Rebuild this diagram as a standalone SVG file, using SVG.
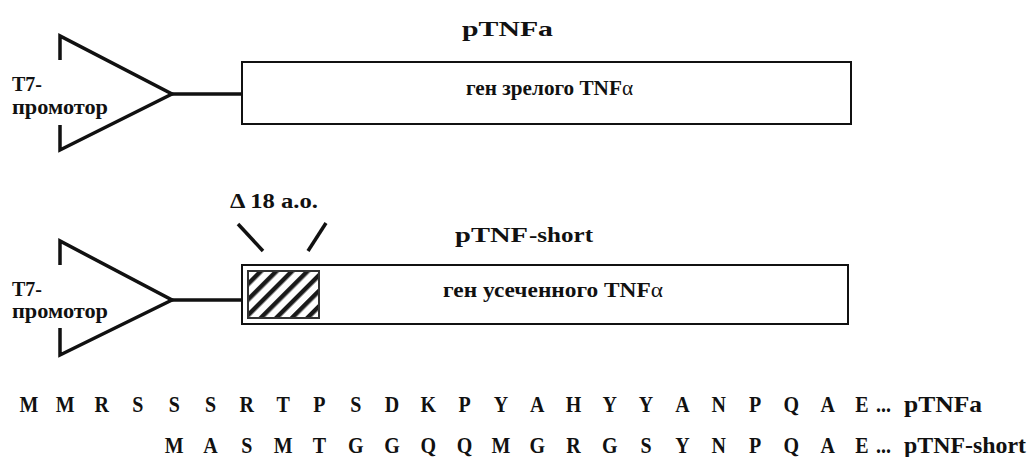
<svg xmlns="http://www.w3.org/2000/svg" width="1030" height="457" viewBox="0 0 1030 457">
<style>
.t{font-family:"Liberation Serif","Times New Roman",serif;font-weight:bold;fill:#111;}
.sq{font-size:20px;text-anchor:middle;}
.a{font-weight:normal;}
.ln{fill:none;stroke:#111;stroke-width:3.5;stroke-linejoin:miter;}
.box{fill:#fff;stroke:#111;stroke-width:2;}
</style>
<defs>
<pattern id="hatch" width="11" height="11" patternUnits="userSpaceOnUse" patternTransform="rotate(45)">
<rect width="11" height="11" fill="#fff"/>
<rect width="4.5" height="11" fill="#1a1a1a"/>
</pattern>
</defs>
<rect width="1030" height="457" fill="#fff"/>

<g id="connectors">
<line class="ln" x1="172" y1="94" x2="243" y2="94"/>
<line class="ln" x1="172" y1="300" x2="243" y2="300"/>
<line class="ln" x1="238" y1="224" x2="263" y2="251"/>
<line class="ln" x1="326" y1="223" x2="308" y2="251"/>
</g>

<g id="title-pTNFa">
<text class="t" x="462" y="36" font-size="22" textLength="91" lengthAdjust="spacingAndGlyphs">pTNFa</text>
</g>

<g id="promoter1">
<polyline class="ln" points="60,60 60,36 172,94 60,150 60,125"/>
<text class="t" transform="translate(12,91) scale(1,1.2)" font-size="18" textLength="30" lengthAdjust="spacingAndGlyphs">T7-</text>
<text class="t" transform="translate(12,114) scale(1,1.2)" font-size="18" textLength="96" lengthAdjust="spacingAndGlyphs">промотор</text>
</g>

<g id="gene1">
<rect class="box" x="242" y="62" width="609" height="62"/>
<text class="t" transform="translate(466,95) scale(1,1.2)" font-size="17" textLength="167" lengthAdjust="spacingAndGlyphs">ген зрелого  TNF<tspan class="a">α</tspan></text>
</g>

<g id="deletion-label">
<text class="t" transform="translate(230,208) scale(1,1.2)" font-size="18" textLength="88" lengthAdjust="spacingAndGlyphs">Δ 18 а.о.</text>
</g>

<g id="title-pTNF-short">
<text class="t" x="455" y="242" font-size="22" textLength="73" lengthAdjust="spacingAndGlyphs">pTNF</text>
<text class="t" transform="translate(529,242) scale(1,1.2)" font-size="17" textLength="64" lengthAdjust="spacingAndGlyphs">-short</text>
</g>

<g id="promoter2">
<polyline class="ln" points="60,265 60,241 172,300 60,355 60,328"/>
<text class="t" transform="translate(12,296) scale(1,1.2)" font-size="18" textLength="30" lengthAdjust="spacingAndGlyphs">T7-</text>
<text class="t" transform="translate(12,318) scale(1,1.2)" font-size="18" textLength="96" lengthAdjust="spacingAndGlyphs">промотор</text>
</g>

<g id="gene2">
<rect class="box" x="242" y="265" width="606" height="59"/>
<rect id="deleted-region" x="248" y="271" width="71" height="47" fill="url(#hatch)" stroke="#333" stroke-width="2"/>
<text class="t" transform="translate(443,297) scale(1,1.2)" font-size="17" textLength="220" lengthAdjust="spacingAndGlyphs">ген усеченного TNF<tspan class="a">α</tspan></text>
</g>

<g id="sequence-pTNFa">
<text class="t sq" transform="translate(0,412) scale(1,1.15)" x="29 65.3 101.6 137.9 174.2 210.5 246.8 283.1 319.4 355.7 392 428.3 464.6 500.9 537.2 573.5 609.8 646.1 682.4 718.7 755 791.3 827.6 862" y="0">MMRSSSRTPSDKPYAHYYANPQAE</text>
<text class="t" transform="translate(876,412) scale(1,1.15)" font-size="20">...</text>
<text class="t" transform="translate(904,412) scale(1,1.15)" font-size="20" textLength="78" lengthAdjust="spacingAndGlyphs">pTNFa</text>
</g>

<g id="sequence-pTNF-short">
<text class="t sq" transform="translate(0,453) scale(1,1.15)" x="174.2 210.5 246.8 283.1 319.4 355.7 392 428.3 464.6 500.9 537.2 573.5 609.8 646.1 682.4 718.7 755 791.3 827.6 862" y="0">MASMTGGQQMGRGSYNPQAE</text>
<text class="t" transform="translate(876,453) scale(1,1.15)" font-size="20">...</text>
<text class="t" transform="translate(904,453) scale(1,1.15)" font-size="20" textLength="122" lengthAdjust="spacingAndGlyphs">pTNF-short</text>
</g>
</svg>
